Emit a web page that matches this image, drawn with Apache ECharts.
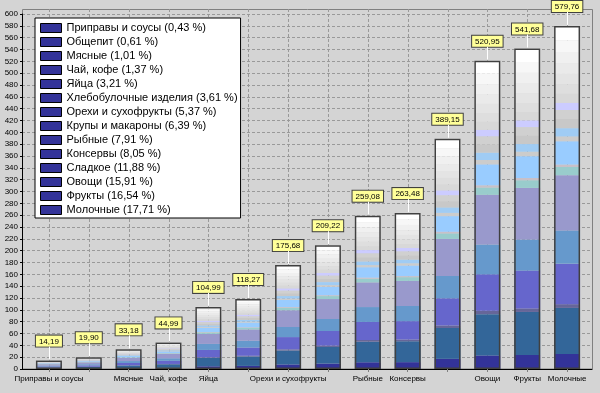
<!DOCTYPE html>
<html><head><meta charset="utf-8">
<script src="https://cdn.jsdelivr.net/npm/echarts@6/dist/echarts.min.js"></script>
<style>html,body{margin:0;padding:0;background:#d4d4d4}#c{width:600px;height:393px}</style>
</head><body><div id="c"></div>
<script>
const categories = ['Приправы и соусы','Общепит','Мясные','Чай, кофе','Яйца','Хлебобулочные изделия','Орехи и сухофрукты','Крупы и макароны','Рыбные','Консервы','Сладкое','Овощи','Фрукты','Молочные'];
const xTickLabels = ['Приправы и соусы','','Мясные','Чай, кофе','Яйца','','Орехи и сухофрукты','','Рыбные','Консервы','','Овощи','Фрукты','Молочные'];
const totals = [14.19, 19.90, 33.18, 44.99, 104.99, 118.27, 175.68, 209.22, 259.08, 263.48, 389.15, 520.95, 541.68, 579.76];
const shares = [0.43, 0.61, 1.01, 1.37, 3.21, 3.61, 5.37, 6.39, 7.91, 8.05, 11.88, 15.91, 16.54, 17.71];

// stacked segments, bottom to top
const seg01 = [0.62, 0.88, 1.46, 1.98, 4.62, 5.20, 7.73, 9.21, 11.40, 11.59, 17.12, 22.92, 23.83, 25.51];
const seg02 = [1.90, 2.67, 4.45, 6.03, 14.07, 15.85, 23.54, 28.04, 34.72, 35.31, 52.15, 69.81, 72.59, 77.69];
const seg03 = [0.16, 0.22, 0.36, 0.49, 1.15, 1.30, 1.93, 2.30, 2.85, 2.90, 4.28, 5.73, 5.96, 6.38];
const seg04 = [1.67, 2.35, 3.92, 5.31, 12.39, 13.96, 20.73, 24.69, 30.57, 31.09, 45.92, 61.47, 63.92, 68.41];
const seg05 = [1.38, 1.93, 3.22, 4.36, 10.18, 11.47, 17.04, 20.29, 25.13, 25.56, 37.75, 50.53, 52.54, 56.24];
const seg06 = [2.28, 3.20, 5.34, 7.24, 16.90, 19.04, 28.28, 33.68, 41.71, 42.42, 62.65, 83.87, 87.21, 93.34];
const seg07 = [0.34, 0.48, 0.80, 1.08, 2.52, 2.84, 4.22, 5.02, 6.22, 6.32, 9.34, 12.50, 13.00, 13.91];
const seg08 = [0.10, 0.14, 0.23, 0.31, 0.73, 0.83, 1.23, 1.46, 1.81, 1.84, 2.72, 3.65, 3.79, 4.06];
const seg09 = [0.96, 1.35, 2.26, 3.06, 7.14, 8.04, 11.95, 14.23, 17.62, 17.92, 26.46, 35.42, 36.83, 39.42];
const seg10 = [0.20, 0.28, 0.46, 0.63, 1.47, 1.66, 2.46, 2.93, 3.63, 3.69, 5.45, 7.29, 7.58, 8.12];
const seg11 = [0.35, 0.47, 0.81, 1.07, 2.55, 2.80, 4.20, 5.05, 6.20, 6.35, 9.30, 12.55, 12.95, 13.95];
const seg12 = [0.38, 0.54, 0.90, 1.21, 2.83, 3.19, 4.74, 5.65, 7.00, 7.11, 10.51, 14.07, 14.63, 15.65];
const seg13 = [0.37, 0.52, 0.86, 1.17, 2.73, 3.08, 4.57, 5.44, 6.74, 6.85, 10.12, 13.54, 14.08, 15.07];
const seg14 = [0.30, 0.42, 0.70, 0.94, 2.20, 2.48, 3.69, 4.39, 5.44, 5.53, 8.17, 10.94, 11.38, 12.17];
const seg15 = [0.36, 0.53, 0.85, 1.18, 2.70, 3.10, 4.55, 5.45, 6.75, 6.80, 10.10, 13.50, 14.10, 15.10];
const seg16 = [0.40, 0.56, 0.93, 1.26, 2.94, 3.31, 4.92, 5.86, 7.25, 7.38, 10.90, 14.59, 15.17, 16.23];
const seg17 = [0.43, 0.60, 1.00, 1.35, 3.15, 3.55, 5.27, 6.28, 7.77, 7.90, 11.67, 15.63, 16.25, 17.39];
const seg18 = [0.42, 0.61, 0.99, 1.36, 3.14, 3.56, 5.25, 6.30, 7.75, 7.92, 11.70, 15.60, 16.27, 17.40];
const seg19 = [0.48, 0.68, 1.13, 1.53, 3.57, 4.02, 5.97, 7.11, 8.81, 8.96, 13.23, 17.71, 18.42, 19.71];
const seg20 = [0.49, 0.67, 1.14, 1.52, 3.55, 4.05, 5.95, 7.10, 8.80, 9.00, 13.20, 17.75, 18.40, 19.70];
const seg21 = [0.60, 0.84, 1.39, 1.89, 4.41, 4.97, 7.38, 8.79, 10.88, 11.07, 16.34, 21.88, 22.75, 24.35];

const segments = [seg01, seg02, seg03, seg04, seg05, seg06, seg07, seg08, seg09, seg10, seg11, seg12, seg13, seg14, seg15, seg16, seg17, seg18, seg19, seg20, seg21];
const segmentColors = ['#333399','#336699','#666699','#6666cc','#6699cc','#9999cc','#99cccc','#c8c0c8','#99ccff','#cccccc','#a0ccf4','#c8c8c8','#d0d0d0','#ccccff','#d8d8d8','#dedede','#e4e4e4','#eaeaea','#f0f0f0','#f7f7f7','#ffffff'];

const FONT = '"Liberation Sans", Arial, sans-serif';
const fmt = v => v.toFixed(2).replace('.', ',');

const chart = echarts.init(document.getElementById('c'), null, {renderer: 'canvas'});
const series = [];

series.push({
  type: 'custom', xAxisIndex: 1, yAxisIndex: 1, z: 1, silent: true,
  data: categories.map((c, i) => [i]),
  renderItem: (params, api) => {
    const top = api.coord([api.value(0), 600]);
    const bot = api.coord([api.value(0), 0]);
    const x = Math.round(top[0]) + 0.5;
    return {type: 'line', shape: {x1: x, y1: top[1] - 5, x2: x, y2: bot[1]},
      style: {stroke: '#999999', lineDash: [3, 2], lineWidth: 1}};
  }
});

segments.forEach((d, k) => series.push({
  type: 'bar', name: 'seg' + (k + 1), stack: 'total', xAxisIndex: 1, yAxisIndex: 1,
  data: d, barWidth: 26, silent: true, z: 2,
  itemStyle: {color: segmentColors[k]}
}));

series.push({
  type: 'bar', name: 'outline', xAxisIndex: 1, yAxisIndex: 1, data: totals,
  barWidth: 26, barGap: '-100%', z: 3, silent: true,
  itemStyle: {color: 'rgba(0,0,0,0)', borderColor: '#404040', borderWidth: 1.5},
  label: {show: true, position: 'top', distance: 14, formatter: p => fmt(p.value),
    fontSize: 8, fontFamily: FONT, color: '#000', backgroundColor: '#ffff99',
    borderColor: '#404040', borderWidth: 1, padding: [2, 3, 1, 3]}
});

series.push({
  type: 'custom', xAxisIndex: 1, yAxisIndex: 1, z: 4, silent: true,
  data: totals.map((t, i) => [i, t]),
  renderItem: (params, api) => {
    const pt = api.coord([api.value(0), api.value(1)]);
    const x = Math.round(pt[0]) + 0.5;
    return {type: 'line', shape: {x1: x, y1: pt[1] - 1, x2: x, y2: pt[1] - 14},
      style: {stroke: '#ffffff', lineWidth: 1}};
  }
});

categories.forEach(name => series.push({
  type: 'scatter', name: name, data: [], xAxisIndex: 1, yAxisIndex: 1,
  itemStyle: {color: '#333399', opacity: 1}
}));

chart.setOption({
  animation: false,
  backgroundColor: '#d4d4d4',
  textStyle: {fontFamily: FONT},
  graphic: [{type: 'rect', silent: true, z: 0,
    shape: {x: 22.5, y: 9.5, width: 570, height: 359.5},
    style: {fill: null, stroke: '#808080', lineWidth: 1}}],
  grid: [
    {left: 22, right: 8, top: 14, bottom: 24},
    {left: 29, right: 13, top: 14, bottom: 24}
  ],
  xAxis: [
    {gridIndex: 0, type: 'value', min: 0, max: 1,
      axisLine: {show: true, lineStyle: {color: '#000'}}, axisTick: {show: false},
      axisLabel: {show: false}, splitLine: {show: false}},
    {gridIndex: 1, type: 'category', data: categories,
      axisLine: {show: false},
      axisTick: {show: true, alignWithLabel: true, length: 3, lineStyle: {color: '#808080'}},
      axisLabel: {interval: 0, formatter: (v, i) => xTickLabels[i], fontSize: 8, color: '#000', margin: 6, fontFamily: FONT},
      splitLine: {show: false}}
  ],
  yAxis: [
    {gridIndex: 0, type: 'value', min: 0, max: 600, interval: 20,
      axisLine: {show: true, lineStyle: {color: '#000'}},
      axisTick: {show: true, length: 2, lineStyle: {color: '#000'}},
      axisLabel: {fontSize: 8, color: '#000', margin: 4, fontFamily: FONT},
      splitLine: {show: true, lineStyle: {color: '#999999', type: [3, 2]}}},
    {gridIndex: 1, type: 'value', min: 0, max: 600, interval: 20, show: false}
  ],
  legend: {
    data: categories, orient: 'vertical', left: 35, top: 18,
    backgroundColor: '#ffffff', borderColor: '#000', borderWidth: 1,
    padding: [3, 3, 1, 5], itemGap: 0, itemWidth: 21, itemHeight: 9,
    icon: 'rect', selectedMode: false,
    itemStyle: {color: '#333399', opacity: 1, borderColor: '#000', borderWidth: 1},
    textStyle: {fontSize: 11, color: '#000', fontFamily: FONT, lineHeight: 14},
    formatter: name => name + ' (' + fmt(shares[categories.indexOf(name)]) + ' %)'
  },
  series: series
});
</script>
</body></html>
